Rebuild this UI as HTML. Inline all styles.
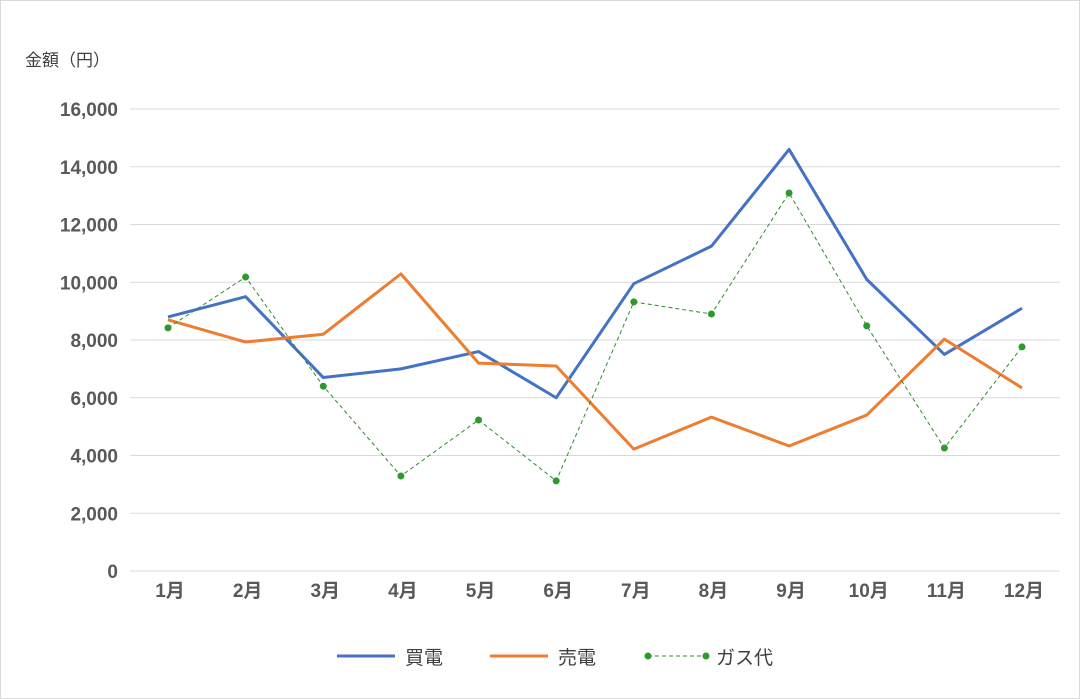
<!DOCTYPE html>
<html><head><meta charset="utf-8"><style>
body{margin:0;background:#fff;}
svg{display:block;font-family:"Liberation Sans","Noto Sans CJK JP",sans-serif;}
</style></head><body>
<svg id="c" width="1080" height="699">
<rect x="0.5" y="0.5" width="1079" height="698" fill="#fff" stroke="#d9d9d9"/>
<text x="25" y="66" font-size="17" fill="#404040">金額（円）</text>
<g id="grid"></g><g id="series"></g>
<g>
<g><line x1="337" y1="656" x2="395" y2="656" stroke="#4472c4" stroke-width="3"/><text x="405" y="664" font-size="19" fill="#404040">買電</text></g>
<g><line x1="490" y1="656" x2="548" y2="656" stroke="#ed7d31" stroke-width="3"/><text x="558" y="664" font-size="19" fill="#404040">売電</text></g>
<g><line x1="648" y1="656" x2="706" y2="656" stroke="#2e8b2e" stroke-width="1" stroke-dasharray="4,3"/><circle cx="648" cy="656" r="3.5" fill="#2e9a2e"/><circle cx="706" cy="656" r="3.5" fill="#2e9a2e"/><text x="716" y="664" font-size="19" fill="#404040">ガス代</text></g>
</g>
</svg>
<script>
const categories=["1月","2月","3月","4月","5月","6月","7月","8月","9月","10月","11月","12月"];
const kaiden=[8800,9500,6700,7000,7600,6000,9950,11250,14600,10100,7500,9100];
const baiden=[8700,7930,8200,10290,7200,7100,4220,5330,4330,5400,8030,6340];
const gas=[8420,10180,6400,3290,5230,3120,9320,8900,13090,8490,4260,7760];
const yTicks=[0,2000,4000,6000,8000,10000,12000,14000,16000];
const NS="http://www.w3.org/2000/svg";
const y=v=>571-v/16000*462;
const x=i=>168+i*(1022-168)/11;
function mk(t,a,p){const e=document.createElementNS(NS,t);for(const k in a)e.setAttribute(k,a[k]);p.appendChild(e);return e;}
const g=document.getElementById('grid'),s=document.getElementById('series');
yTicks.forEach(v=>{
 const l=mk('line',{x1:130,x2:1060,y1:y(v),y2:y(v),stroke:'#d9d9d9','stroke-width':1},g);
 
 
 const t=mk('text',{x:118,y:y(v)+7,'text-anchor':'end','font-size':19,'font-weight':'bold',fill:'#595959'},g);
 t.textContent=v.toLocaleString('en-US');
 
 
});
categories.forEach((c,i)=>{
 const t=mk('text',{x:x(i)+2,y:597,'text-anchor':'middle','font-size':19,'font-weight':'bold',fill:'#595959'},g);
 t.textContent=c;
 
 
});
function line(d,col,w,dash,name){
 const p=mk('polyline',{points:d.map((v,i)=>x(i)+','+y(v)).join(' '),fill:'none',stroke:col,'stroke-width':w,'stroke-linejoin':'round'},s);
 if(dash)p.setAttribute('stroke-dasharray',dash);
 
 
}
line(kaiden,'#4472c4',3,null,'series-kaiden-line');
line(baiden,'#ed7d31',3,null,'series-baiden-line');
line(gas,'#2e8b2e',1,'4,3','series-gas-line');
gas.forEach((v,i)=>{
 const c=mk('circle',{cx:x(i),cy:y(v),r:3.5,fill:'#2e9a2e'},s);
 
 
});
</script>
</body></html>
